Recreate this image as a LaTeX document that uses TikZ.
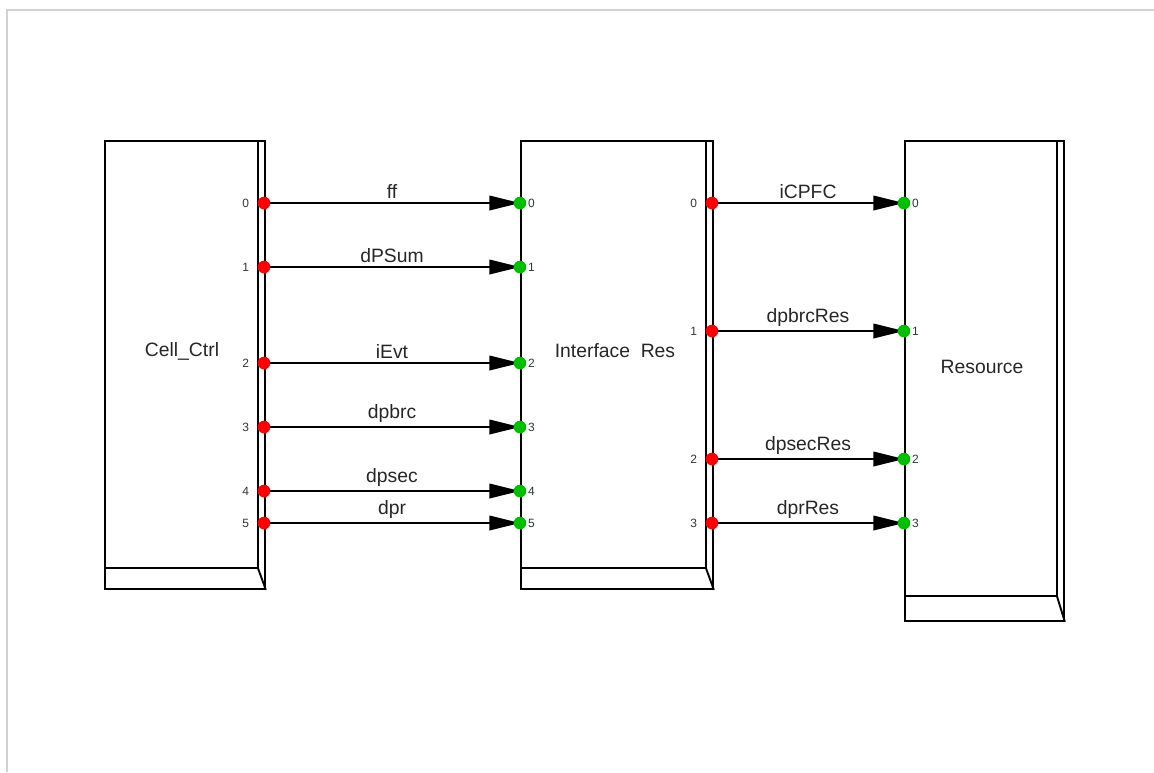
\documentclass[tikz,border=0pt]{standalone}
\usepackage{fontspec}
\setmainfont{Liberation Sans}
\usetikzlibrary{arrows.meta,calc}
\definecolor{portred}{RGB}{255,0,0}
\definecolor{portgreen}{RGB}{0,190,0}
\tikzset{
  blockbox/.style = {rectangle, draw=black, line width=1.4pt, anchor=north west,
    inner sep=0pt},
  blocklabel/.style = {font=\fontsize{14.5}{16}\selectfont, text=black!85},
  outport/.style = {circle, fill=portred, inner sep=0pt, minimum size=9.5pt},
  inport/.style = {circle, fill=portgreen, inner sep=0pt, minimum size=9.5pt},
  pnum/.style = {font=\fontsize{9}{10}\selectfont, text=black!80, inner sep=1pt},
  flow/.style = {-{Triangle[length=23pt,width=11pt]}, line width=1.1pt},
  sig/.style = {above, inner sep=3pt, font=\fontsize{14.5}{16}\selectfont, text=black!85}
}

\begin{document}
\begin{tikzpicture}[x=0.75pt,y=-0.75pt]
\useasboundingbox (0,0) rectangle (1154,772);
\draw[gray!35, line width=1.5pt] (7,772) -- (7,10) -- (1154,10);

% blocks
\node [blockbox, minimum width=120pt, minimum height=336pt] (cell) at (104,140) {};
\node [blockbox, minimum width=144pt, minimum height=336pt] (iface) at (520,140) {};
\node [blockbox, minimum width=119.25pt, minimum height=360pt] (res) at (904,140) {};
\foreach \n/\h in {cell/22,iface/22,res/26} {
  \draw[line width=1.4pt] ($(\n.north east)+(-8,0)$) -- ($(\n.south east)+(-8,-\h)$)
    coordinate (\n-c) -- ($(\n.south west)+(0,-\h)$);
  \draw[line width=1.4pt] (\n-c) -- (\n.south east);
}
\node [blocklabel] (cell-txt) at (182,351) {Cell\_Ctrl};
\node [blocklabel] (iface-txt) at (615,351) {Interface~~Res};
\node [blocklabel] (res-txt) at (982,367) {Resource};

% ports
\foreach \i/\y in {0/203,1/267,2/363,3/427,4/491,5/523} {
  \coordinate (co\i) at (264,\y);
  \coordinate (ii\i) at (520,\y);
}
\foreach \i/\y in {0/203,1/331,2/459,3/523} {
  \coordinate (io\i) at (712,\y);
  \coordinate (ri\i) at (904,\y);
}

% connections
\foreach \i/\t in {0/ff,1/dPSum,2/iEvt,3/dpbrc,4/dpsec,5/dpr}
  \draw[flow] (co\i) -- node[sig] {\t} (ii\i);
\foreach \i/\t in {0/iCPFC,1/dpbrcRes,2/dpsecRes,3/dprRes}
  \draw[flow] (io\i) -- node[sig] {\t} (ri\i);

% port dots
\foreach \i in {0,...,5} {
  \node [outport, label={[pnum, label distance=5pt]left:\i}] (co\i-dot) at (co\i) {};
  \node [inport, label={[pnum, label distance=0pt]right:\i}] (ii\i-dot) at (ii\i) {};
}
\foreach \i in {0,...,3} {
  \node [outport, label={[pnum, label distance=5pt]left:\i}] (io\i-dot) at (io\i) {};
  \node [inport, label={[pnum, label distance=0pt]right:\i}] (ri\i-dot) at (ri\i) {};
}
\end{tikzpicture}
\end{document}
